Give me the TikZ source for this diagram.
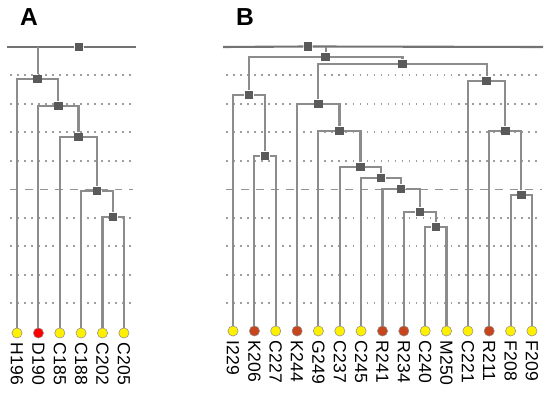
\documentclass[tikz,border=0pt]{standalone}
\usepackage{fontspec}
\setmainfont{Liberation Sans}
\usepackage{tikz}
\usetikzlibrary{positioning}
\definecolor{LeafYel}{HTML}{FFF000}
\definecolor{LeafRed}{HTML}{FF0000}
\definecolor{LeafRust}{HTML}{C8441C}
\definecolor{BrGray}{HTML}{8C8C8C}
\definecolor{JnGray}{HTML}{5A5A5A}

\begin{document}
\begin{tikzpicture}[
        x=0.02cm, y=-0.02cm,
        br/.style={BrGray, line width=1.15pt},
        top/.style={black!55, line width=1.2pt},
        guide/.style={black!38, line width=0.9pt, dash pattern=on 0.9pt off 3.1pt},
        cut/.style={black!42, line width=0.9pt, dash pattern=on 4.5pt off 4pt},
        jn/.style={rectangle, fill=JnGray, minimum size=4.8pt, inner sep=0pt},
        leaf/.style={circle, draw=black!45, line width=0.3pt, minimum size=5.8pt, inner sep=0pt},
        lbl/.style={font=\fontsize{10}{11}\selectfont, rotate=-90, anchor=west, inner sep=0pt},
        panel/.style={font=\fontsize{14}{16}\selectfont\bfseries},
      ]
        \useasboundingbox (0,0) rectangle (550,394);
        % ---- guide lines ----
        \foreach \y in {75,104,132,161,218,246,275,303}{
          \draw[guide] (10,\y) -- (133,\y);
          \draw[guide] (226,\y) -- (542,\y);}
        \draw[cut] (10,189.5) -- (133,189.5);
        \draw[cut] (226,189.5) -- (542,189.5);
        % ---- panel letters ----
        \node[panel] (pA) at (29,17) {A};
        \node[panel] (pB) at (245,17) {B};
        % ---- leaves A ----
        \foreach \x/\n/\c in {17/H196/LeafYel, 38.4/D190/LeafRed, 59.8/C185/LeafYel,
            81.1/C188/LeafYel, 102.5/C202/LeafYel, 123.9/C205/LeafYel}{
          \node[leaf, fill=\c] (\n) at (\x,333) {};
          \node[lbl] (t\n) at (\x,342.5) {\n};}
        % ---- leaves B ----
        \foreach \x/\n/\c in {233/I229/LeafYel, 254.4/K206/LeafRust, 275.7/C227/LeafYel,
            297.1/K244/LeafRust, 318.4/G249/LeafYel, 339.8/C237/LeafYel, 361.1/C245/LeafYel,
            382.5/R241/LeafRust, 403.8/R234/LeafRust, 425.2/C240/LeafYel, 446.5/M250/LeafYel,
            467.9/C221/LeafYel, 489.2/R211/LeafRust, 510.6/F208/LeafYel, 531.9/F209/LeafYel}{
          \node[leaf, fill=\c] (\n) at (\x,331) {};
          \node[lbl] (t\n) at (\x,340.5) {\n};}
        % ---- tree A ----
        \coordinate (aL) at (7,47); \coordinate (aT) at (37.7,47); \coordinate (aRt) at (136,47);
        \node[jn] (aR) at (79,47) {};
        \node[jn] (a1) at (37.7,79) {};
        \node[jn] (a2) at (58.4,106) {};
        \node[jn] (a3) at (78.5,137) {};
        \node[jn] (a4) at (97.2,191) {};
        \node[jn] (a5) at (113.2,217) {};
        \draw[top] (aL) -- (aR); \draw[top] (aR) -- (aRt);
        \draw[br] (aT) -- (a1);
        \draw[br] (a1) -| (H196); \draw[br] (a1) -| (a2);
        \draw[br] (a2) -| (D190); \draw[br] (a2) -| (a3);
        \draw[br] (a3) -| (C185); \draw[br] (a3) -| (a4);
        \draw[br] (a4) -| (C188); \draw[br] (a4) -| (a5);
        \draw[br] (a5) -| (C202); \draw[br] (a5) -| (C205);
        % ---- tree B ----
        \coordinate (bL) at (223,47); \coordinate (bT) at (325.7,47); \coordinate (bRt) at (543,47);
        \node[jn] (bR) at (308,46.5) {};
        \node[jn] (b1) at (325.7,57) {};
        \node[jn] (b2) at (249,95) {};
        \node[jn] (b3) at (402.5,64) {};
        \node[jn] (b4) at (265,156) {};
        \node[jn] (b5) at (318.3,104) {};
        \node[jn] (b6) at (486.6,81) {};
        \node[jn] (b7) at (339.5,131) {};
        \node[jn] (b8) at (360.5,167) {};
        \node[jn] (b9) at (381.2,178) {};
        \node[jn] (b10) at (401.2,189) {};
        \node[jn] (b11) at (419.9,212) {};
        \node[jn] (b12) at (435.9,227) {};
        \node[jn] (b13) at (505.3,131) {};
        \node[jn] (b14) at (521.3,195) {};
        \draw[top] (bL) -- (bR); \draw[top] (bR) -- (bRt);
        \draw[br] (bT) -- (b1);
        \draw[br] (b1) -| (b2); \draw[br] (b1) -| (b3);
        \draw[br] (b2) -| (I229); \draw[br] (b2) -| (b4);
        \draw[br] (b4) -| (K206); \draw[br] (b4) -| (C227);
        \draw[br] (b3) -| (b5); \draw[br] (b3) -| (b6);
        \draw[br] (b5) -| (K244); \draw[br] (b5) -| (b7);
        \draw[br] (b7) -| (G249); \draw[br] (b7) -| (b8);
        \draw[br] (b8) -| (C237); \draw[br] (b8) -| (b9);
        \draw[br] (b9) -| (C245); \draw[br] (b9) -| (b10);
        \draw[br] (b10) -| (R241); \draw[br] (b10) -| (b11);
        \draw[br] (b11) -| (R234); \draw[br] (b11) -| (b12);
        \draw[br] (b12) -| (C240); \draw[br] (b12) -| (M250);
        \draw[br] (b6) -| (C221); \draw[br] (b6) -| (b13);
        \draw[br] (b13) -| (R211); \draw[br] (b13) -| (b14);
        \draw[br] (b14) -| (F208); \draw[br] (b14) -| (F209);
      \end{tikzpicture}
\end{document}
